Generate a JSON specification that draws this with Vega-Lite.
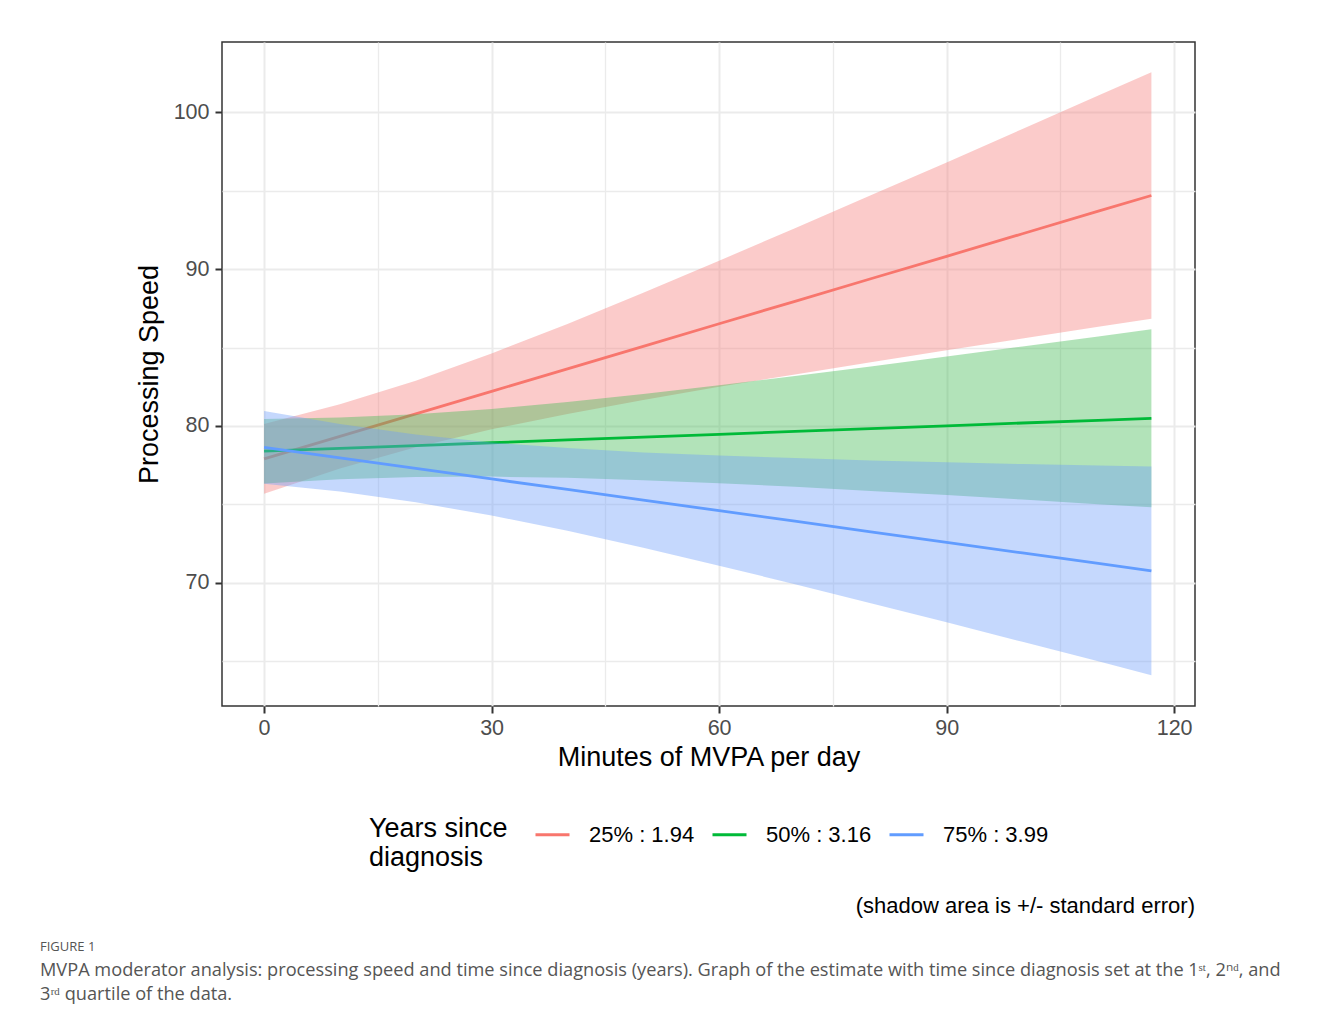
{
  "$schema": "https://vega.github.io/schema/vega-lite/v6.json",
  "width": 973,
  "height": 664,
  "autosize": {"type": "none"},
  "padding": {"left": 222, "top": 42, "right": 124, "bottom": 321},
  "background": "white",
  "config": {
    "font": "Liberation Sans",
    "view": {"stroke": "#333333", "strokeWidth": 1.5},
    "axis": {
      "domain": false,
      "gridColor": "#EBEBEB",
      "tickColor": "#333333",
      "tickSize": 7,
      "tickWidth": 2,
      "labelFontSize": 21.5,
      "labelColor": "#4D4D4D",
      "titleFontSize": 27,
      "titleFontWeight": "normal",
      "titleColor": "#000000"
    }
  },
  "datasets": {
    "est": [
      {"grp": "25% : 1.94", "x": 0, "fit": 77.90, "lo": 75.67, "hi": 80.13},
      {"grp": "25% : 1.94", "x": 10, "fit": 79.34, "lo": 77.29, "hi": 81.39},
      {"grp": "25% : 1.94", "x": 20, "fit": 80.77, "lo": 78.65, "hi": 82.89},
      {"grp": "25% : 1.94", "x": 30, "fit": 82.21, "lo": 79.79, "hi": 84.63},
      {"grp": "25% : 1.94", "x": 40, "fit": 83.64, "lo": 80.77, "hi": 86.51},
      {"grp": "25% : 1.94", "x": 50, "fit": 85.08, "lo": 81.66, "hi": 88.50},
      {"grp": "25% : 1.94", "x": 60, "fit": 86.52, "lo": 82.50, "hi": 90.54},
      {"grp": "25% : 1.94", "x": 70, "fit": 87.95, "lo": 83.29, "hi": 92.61},
      {"grp": "25% : 1.94", "x": 80, "fit": 89.39, "lo": 84.07, "hi": 94.71},
      {"grp": "25% : 1.94", "x": 90, "fit": 90.82, "lo": 84.83, "hi": 96.81},
      {"grp": "25% : 1.94", "x": 100, "fit": 92.26, "lo": 85.58, "hi": 98.94},
      {"grp": "25% : 1.94", "x": 110, "fit": 93.70, "lo": 86.33, "hi": 101.07},
      {"grp": "25% : 1.94", "x": 117, "fit": 94.70, "lo": 86.84, "hi": 102.56},
      {"grp": "50% : 3.16", "x": 0, "fit": 78.39, "lo": 76.33, "hi": 80.45},
      {"grp": "50% : 3.16", "x": 10, "fit": 78.57, "lo": 76.60, "hi": 80.54},
      {"grp": "50% : 3.16", "x": 20, "fit": 78.75, "lo": 76.75, "hi": 80.75},
      {"grp": "50% : 3.16", "x": 30, "fit": 78.93, "lo": 76.77, "hi": 81.09},
      {"grp": "50% : 3.16", "x": 40, "fit": 79.11, "lo": 76.69, "hi": 81.53},
      {"grp": "50% : 3.16", "x": 50, "fit": 79.29, "lo": 76.54, "hi": 82.04},
      {"grp": "50% : 3.16", "x": 60, "fit": 79.47, "lo": 76.35, "hi": 82.59},
      {"grp": "50% : 3.16", "x": 70, "fit": 79.65, "lo": 76.12, "hi": 83.19},
      {"grp": "50% : 3.16", "x": 80, "fit": 79.83, "lo": 75.86, "hi": 83.80},
      {"grp": "50% : 3.16", "x": 90, "fit": 80.01, "lo": 75.59, "hi": 84.43},
      {"grp": "50% : 3.16", "x": 100, "fit": 80.19, "lo": 75.31, "hi": 85.07},
      {"grp": "50% : 3.16", "x": 110, "fit": 80.36, "lo": 75.01, "hi": 85.71},
      {"grp": "50% : 3.16", "x": 117, "fit": 80.49, "lo": 74.81, "hi": 86.17},
      {"grp": "75% : 3.99", "x": 0, "fit": 78.64, "lo": 76.32, "hi": 80.96},
      {"grp": "75% : 3.99", "x": 10, "fit": 77.97, "lo": 75.82, "hi": 80.12},
      {"grp": "75% : 3.99", "x": 20, "fit": 77.29, "lo": 75.13, "hi": 79.45},
      {"grp": "75% : 3.99", "x": 30, "fit": 76.62, "lo": 74.29, "hi": 78.95},
      {"grp": "75% : 3.99", "x": 40, "fit": 75.95, "lo": 73.31, "hi": 78.59},
      {"grp": "75% : 3.99", "x": 50, "fit": 75.27, "lo": 72.23, "hi": 78.31},
      {"grp": "75% : 3.99", "x": 60, "fit": 74.60, "lo": 71.09, "hi": 78.11},
      {"grp": "75% : 3.99", "x": 70, "fit": 73.93, "lo": 69.91, "hi": 77.95},
      {"grp": "75% : 3.99", "x": 80, "fit": 73.25, "lo": 68.70, "hi": 77.80},
      {"grp": "75% : 3.99", "x": 90, "fit": 72.58, "lo": 67.48, "hi": 77.68},
      {"grp": "75% : 3.99", "x": 100, "fit": 71.90, "lo": 66.23, "hi": 77.57},
      {"grp": "75% : 3.99", "x": 110, "fit": 71.23, "lo": 64.99, "hi": 77.48},
      {"grp": "75% : 3.99", "x": 117, "fit": 70.76, "lo": 64.10, "hi": 77.42}
    ]
  },
  "title": {
    "text": "FIGURE 1",
    "subtitle": [
      "MVPA moderator analysis: processing speed and time since diagnosis (years). Graph of the estimate with time since diagnosis set at the 1ˢᵗ, 2ⁿᵈ, and",
      "3ʳᵈ quartile of the data."
    ],
    "orient": "bottom",
    "anchor": "start",
    "frame": "group",
    "dx": -182,
    "offset": 24,
    "font": "Open Sans",
    "fontSize": 13,
    "fontWeight": "normal",
    "color": "#555555",
    "subtitleFont": "Open Sans",
    "subtitleFontSize": 18.2,
    "subtitleColor": "#555555",
    "subtitleLineHeight": 24,
    "subtitlePadding": 8
  },
  "layer": [
    {
      "data": {"name": "est"},
      "transform": [{"filter": {"field": "grp", "equal": "25% : 1.94"}}],
      "mark": {"type": "area", "fill": "#F57D7A", "fillOpacity": 0.4},
      "encoding": {
        "x": {
          "field": "x", "type": "quantitative",
          "scale": {"domain": [-5.55, 122.75], "nice": false, "zero": false},
          "axis": {
            "title": "Minutes of MVPA per day",
            "values": [0, 15, 30, 45, 60, 75, 90, 105, 120],
            "labelExpr": "datum.value % 30 === 0 ? datum.label : ''",
            "tickOpacity": {"condition": {"test": "datum.value % 30 === 0", "value": 1}, "value": 0},
            "gridWidth": {"condition": {"test": "datum.value % 30 === 0", "value": 2}, "value": 1.3},
            "labelPadding": 4,
            "titlePadding": 6
          }
        },
        "y": {
          "field": "lo", "type": "quantitative",
          "scale": {"domain": [62.14, 104.49], "nice": false, "zero": false},
          "axis": {
            "title": "Processing Speed",
            "values": [65, 70, 75, 80, 85, 90, 95, 100],
            "labelExpr": "datum.value % 10 === 0 ? datum.label : ''",
            "tickOpacity": {"condition": {"test": "datum.value % 10 === 0", "value": 1}, "value": 0},
            "gridWidth": {"condition": {"test": "datum.value % 10 === 0", "value": 2}, "value": 1.3},
            "labelPadding": 6,
            "titlePadding": 10
          }
        },
        "y2": {"field": "hi"}
      }
    },
    {
      "data": {"name": "est"},
      "transform": [{"filter": {"field": "grp", "equal": "25% : 1.94"}}],
      "mark": {"type": "line", "strokeWidth": 2.8},
      "encoding": {
        "x": {"field": "x", "type": "quantitative"},
        "y": {"field": "fit", "type": "quantitative"},
        "color": {
          "field": "grp", "type": "nominal",
          "scale": {"domain": ["25% : 1.94", "50% : 3.16", "75% : 3.99"], "range": ["#F8766D", "#00BA38", "#619CFF"]},
          "legend": {
            "orient": "none",
            "legendX": 147,
            "legendY": 774,
            "direction": "horizontal",
            "title": ["Years since", "diagnosis"],
            "titleOrient": "left",
            "titleAnchor": "start",
            "titleBaseline": "top",
            "titleFontSize": 27,
            "titleFontWeight": "normal",
            "titleColor": "#000000",
            "titleLineHeight": 29,
            "titlePadding": 26,
            "labelFontSize": 22,
            "labelColor": "#000000",
            "symbolType": "stroke",
            "symbolSize": 1156,
            "symbolStrokeWidth": 2.8,
            "symbolOpacity": 1,
            "labelOffset": 18,
            "columnPadding": 11
          }
        }
      }
    },
    {
      "data": {"name": "est"},
      "transform": [{"filter": {"field": "grp", "equal": "50% : 3.16"}}],
      "mark": {"type": "area", "fill": "#3EB950", "fillOpacity": 0.4},
      "encoding": {
        "x": {"field": "x", "type": "quantitative"},
        "y": {"field": "lo", "type": "quantitative"},
        "y2": {"field": "hi"}
      }
    },
    {
      "data": {"name": "est"},
      "transform": [{"filter": {"field": "grp", "equal": "50% : 3.16"}}],
      "mark": {"type": "line", "strokeWidth": 2.8},
      "encoding": {
        "x": {"field": "x", "type": "quantitative"},
        "y": {"field": "fit", "type": "quantitative"},
        "color": {"field": "grp", "type": "nominal"}
      }
    },
    {
      "data": {"name": "est"},
      "transform": [{"filter": {"field": "grp", "equal": "75% : 3.99"}}],
      "mark": {"type": "area", "fill": "#6E9EFA", "fillOpacity": 0.4},
      "encoding": {
        "x": {"field": "x", "type": "quantitative"},
        "y": {"field": "lo", "type": "quantitative"},
        "y2": {"field": "hi"}
      }
    },
    {
      "data": {"name": "est"},
      "transform": [{"filter": {"field": "grp", "equal": "75% : 3.99"}}],
      "mark": {"type": "line", "strokeWidth": 2.8},
      "encoding": {
        "x": {"field": "x", "type": "quantitative"},
        "y": {"field": "fit", "type": "quantitative"},
        "color": {"field": "grp", "type": "nominal"}
      }
    },
    {
      "data": {"values": [{"note": "(shadow area is +/- standard error)"}]},
      "mark": {"type": "text", "align": "right", "baseline": "middle", "fontSize": 22, "color": "#000000"},
      "encoding": {
        "text": {"field": "note"},
        "x": {"datum": 122.75},
        "y": {"datum": 49.4}
      }
    }
  ]
}
